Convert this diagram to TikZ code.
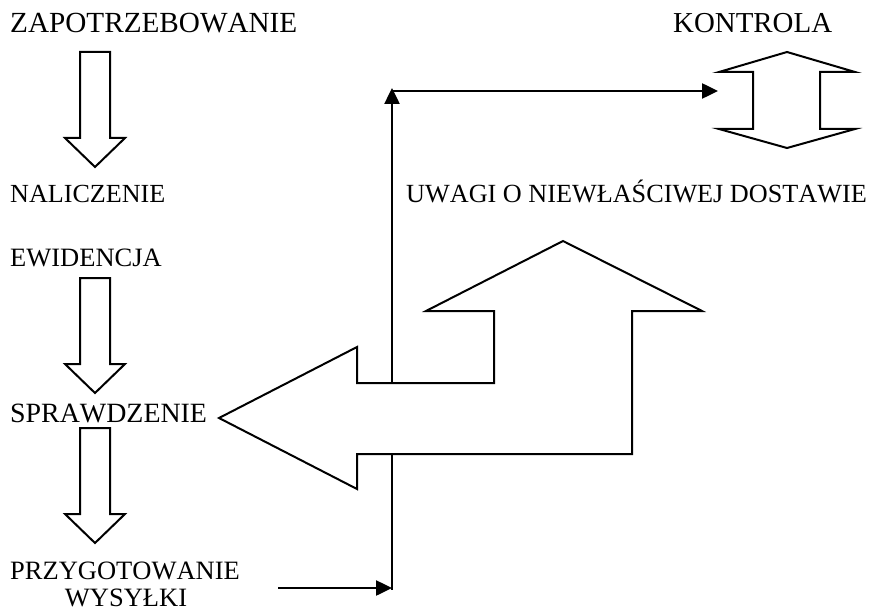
\documentclass[tikz,border=0pt]{standalone}
\usepackage{fontspec}
\setmainfont[Kerning=Off]{Liberation Serif}
\usetikzlibrary{arrows.meta}
\begin{document}
\begin{tikzpicture}[x=1pt,y=-1pt,
  lbl/.style={anchor=base west,inner sep=0pt,font=\fontsize{#1}{#1}\selectfont},
  lbl/.default=26.5,
  outl/.style={line width=2pt},
  flow/.style={line width=2.5pt,-{Triangle[length=16pt,width=15pt]}}]
\useasboundingbox (0,0) rectangle (874,612);

\node[lbl=29.2] (zap) at (10,33) {ZAPOTRZEBOWANIE};
\node[lbl=26.1] (nal) at (10,203) {NALICZENIE};
\node[lbl] (ewi) at (10,266) {EWIDENCJA};
\node[lbl=27.9] (spr) at (10,422) {SPRAWDZENIE};
\node[lbl] (prz) at (10,579) {PRZYGOTOWANIE};
\node[lbl,anchor=base] (wys) at (126,606) {WYSYŁKI};
\node[lbl=28.9] (kon) at (673,33) {KONTROLA};
\node[lbl=26.2] (uwa) at (406,203) {UWAGI O NIEWŁAŚCIWEJ DOSTAWIE};

% block arrows down
\foreach \t in {52,278,428}{
\draw[outl] (80,\t) -- (110,\t) -- (110,\t+86) -- (125,\t+86)
  -- (95,\t+115) -- (65,\t+86) -- (80,\t+86) -- cycle;
}

% left and up arrow
\draw[outl] (219,418) -- (357,347) -- (357,383) -- (494,383) -- (494,311)
  -- (426,311) -- (563,241) -- (702,311) -- (632,311) -- (632,454)
  -- (357,454) -- (357,489) -- cycle;

% double arrow
\draw[outl] (787,52) -- (855,72) -- (820,72) -- (820,129) -- (855,129)
  -- (787,148) -- (719,129) -- (753,129) -- (753,72) -- (719,72) -- cycle;

\coordinate (in) at (278,588);
\coordinate (low) at (392,588);
\coordinate (mid) at (392,454);
\coordinate (up) at (392,383);
\coordinate (top) at (392,88);
\coordinate (kor) at (392,91);
\coordinate (kon end) at (718,91);

\draw[flow] (in) -- (low);
\draw[line width=2.5pt] (mid) -- ([yshift=-2pt]low);
\draw[flow] (up) -- (top);
\draw[flow] (kor) -- (kon end);
\end{tikzpicture}
\end{document}
